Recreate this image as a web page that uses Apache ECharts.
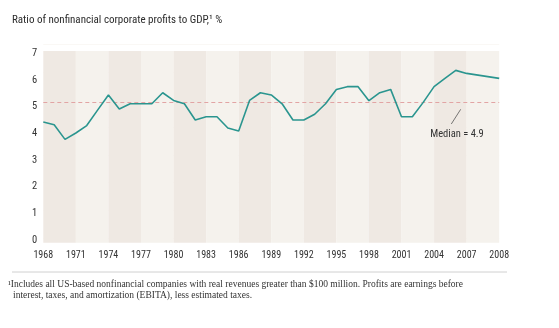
<!DOCTYPE html>
<html>
<head>
<meta charset="utf-8">
<script src="https://cdn.jsdelivr.net/npm/echarts@6/dist/echarts.min.js"></script>
<style>html,body{margin:0;padding:0;background:#fff;}#c{width:559px;height:328px;}</style>
</head>
<body>
<div id="c"></div>
<script>
// Axis slots: one per year 1968-2007, two spacer slots, last tick labelled 2008
const years = ['1968','1969','1970','1971','1972','1973','1974','1975','1976','1977',
  '1978','1979','1980','1981','1982','1983','1984','1985','1986','1987',
  '1988','1989','1990','1991','1992','1993','1994','1995','1996','1997',
  '1998','1999','2000','2001','2002','2003','2004','2005','2006','2007',
  '','','2008'];
const ratio = [4.2,4.1,3.57,3.8,4.07,4.63,5.18,4.67,4.86,4.86,
  4.86,5.26,4.98,4.86,4.27,4.39,4.39,3.98,3.87,4.98,
  5.26,5.18,4.86,4.27,4.27,4.48,4.86,5.38,5.48,5.48,
  4.97,5.26,5.38,4.39,4.39,4.91,5.48,5.78,6.07,5.96,
  null,null,5.78];
const yTicks = [0,1,2,3,4,5,6,7];
const median = 4.9;

const chart = echarts.init(document.getElementById('c'), null, {renderer:'canvas'});
const narrow = '"Roboto Condensed", "DejaVu Sans", sans-serif';
const serif = '"Liberation Serif", "DejaVu Serif", serif';

chart.setOption({
  animation: false,
  backgroundColor: '#ffffff',
  title: {
    text: 'Ratio of nonfinancial corporate profits to GDP,¹ %',
    left: 12, top: 15, padding: 0,
    textStyle: {fontFamily: narrow, fontSize: 11, fontWeight: 'normal', color: '#2b2b2b'}
  },
  grid: [
    {left: 43.3, right: 59.8, top: 44.7, bottom: 90.1},   // data
    {left: 43.3, right: 59.8, top: 51, bottom: 85.3},     // stripes + x labels
    {left: 43.3, right: 59.8, top: 53.3, bottom: 87.8}    // y labels
  ],
  xAxis: [
    {gridIndex: 0, type: 'category', data: years, boundaryGap: false,
      axisLine: {show: false}, axisTick: {show: false}, axisLabel: {show: false}, splitLine: {show: false}},
    {gridIndex: 1, type: 'category', data: years, boundaryGap: false, z: 0,
      axisLine: {show: false}, axisTick: {show: false},
      axisLabel: {show: true, interval: 2, margin: 8, fontFamily: narrow, fontSize: 10, color: '#333'},
      splitArea: {show: true, interval: 2, areaStyle: {color: ['#efe9e3', '#f5f2ed']}},
      splitLine: {show: false}},
    {gridIndex: 2, type: 'category', data: years, boundaryGap: false, show: false}
  ],
  yAxis: [
    {gridIndex: 0, type: 'value', min: 0, max: 7, interval: 1,
      axisLine: {show: false}, axisTick: {show: false}, axisLabel: {show: false},
      splitLine: {show: true, lineStyle: {color: '#faf8f5', width: 1}}},
    {gridIndex: 1, type: 'value', min: 0, max: 7, interval: 1, show: false},
    {gridIndex: 2, type: 'value', min: 0, max: 7, interval: 1,
      axisLine: {show: false}, axisTick: {show: false}, splitLine: {show: false},
      axisLabel: {show: true, margin: 6, fontFamily: narrow, fontSize: 10.5, color: '#333',
        formatter: v => yTicks.includes(v) ? String(v) : ''}}
  ],
  series: [
    {type: 'line', xAxisIndex: 0, yAxisIndex: 0, data: ratio, connectNulls: true,
      symbol: 'none', z: 5,
      lineStyle: {color: '#2a958f', width: 1.6},
      markLine: {silent: true, symbol: ['none','none'], label: {show: false},
        lineStyle: {color: '#e2a4a4', type: [4, 3], width: 1},
        data: [{yAxis: median}]}}
  ],
  graphic: [
    {type: 'line', shape: {x1: 451.3, y1: 124, x2: 460.7, y2: 109.3},
      style: {stroke: '#555', lineWidth: 0.8}, z: 10},
    {type: 'text', x: 457, y: 134.3, z: 10,
      style: {text: 'Median = ' + median, font: '10.5px ' + narrow, fill: '#333',
        textAlign: 'center', textVerticalAlign: 'middle'}},
    {type: 'line', shape: {x1: 12, y1: 272, x2: 507, y2: 272},
      style: {stroke: '#d0d0d0', lineWidth: 1}},
    {type: 'text', x: 8, y: 279,
      style: {text: '¹Includes all US-based nonfinancial companies with real revenues greater than $100 million. Profits are earnings before',
        font: '9.5px ' + serif, fill: '#333'}},
    {type: 'text', x: 13, y: 290,
      style: {text: 'interest, taxes, and amortization (EBITA), less estimated taxes.',
        font: '9.5px ' + serif, fill: '#333'}}
  ]
});
</script>
</body>
</html>
